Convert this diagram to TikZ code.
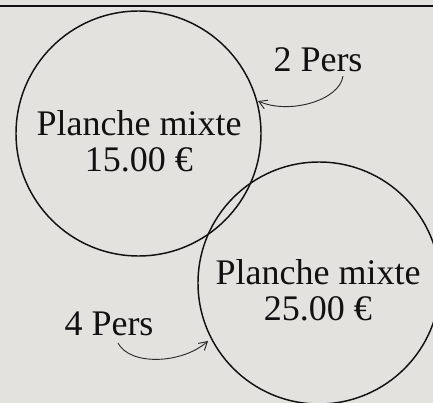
\documentclass[tikz,border=0pt]{standalone}
\usepackage{fontspec}
\setmainfont{Liberation Serif}
\usetikzlibrary{arrows.meta}
\definecolor{bgc}{HTML}{E3E2DE}
\definecolor{inkc}{HTML}{111111}
\definecolor{arrc}{HTML}{2A2A2A}
\begin{document}
\begin{tikzpicture}[x=0.75pt,y=-0.75pt,
  ring/.style={circle,draw=inkc,line width=1.1pt,inner sep=0pt},
  price/.style={align=center,text=inkc,font=\fontsize{27}{27}\selectfont},
  pers/.style={text=inkc,font=\fontsize{27}{27}\selectfont,inner sep=0pt,anchor=base},
  link/.style={draw=arrc,line width=0.7pt,-{Straight Barb[length=6pt,width=7pt]}}]
\fill[bgc] (0,0) rectangle (433,403);
\useasboundingbox (0,0) rectangle (433,403);
\coordinate (tl) at (0,6);
\coordinate (tr) at (433,6);
\draw[inkc,line width=1.5pt] (tl) -- (tr);
\node[ring,minimum size=245*0.75pt] (c1) at (138.5,133.5) {};
\node[ring,minimum size=242*0.75pt] (c2) at (319,283) {};
\node[price] (t1) at (139,141) {Planche mixte\\15.00 €};
\node[price] (t2) at (318,290) {Planche mixte\\25.00 €};
\node[pers] (p2) at (318,72) {2 Pers};
\node[pers] (p4) at (109,336) {4 Pers};
\coordinate (s2) at (343,76);
\coordinate (e2) at (258,101);
\coordinate (s4) at (118,343);
\coordinate (e4) at (208,341);
\draw[link] (s2) .. controls (340,100) and (290,115) .. (e2);
\draw[link] (s4) .. controls (130,366) and (182,364) .. (e4);
\end{tikzpicture}
\end{document}
